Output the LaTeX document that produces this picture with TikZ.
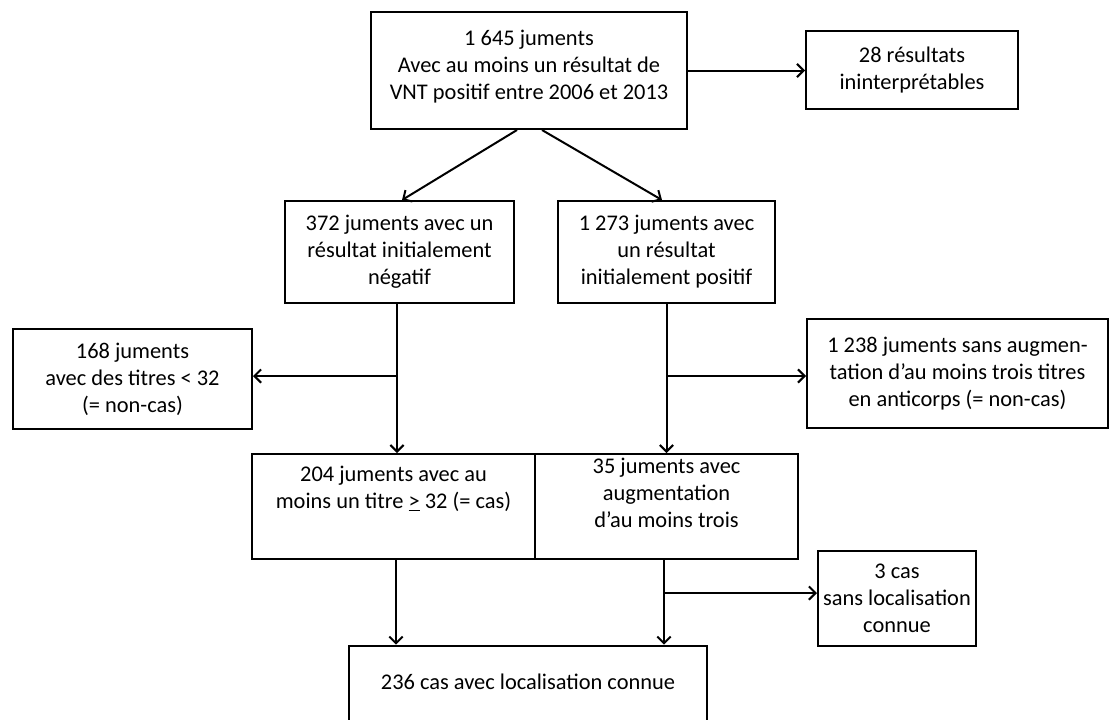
\documentclass[tikz,border=0pt]{standalone}
\usepackage{fontspec}
\setmainfont{Carlito}
\usetikzlibrary{shapes,arrows,arrows.meta,positioning}

\begin{document}
\begin{tikzpicture}[x=0.75pt,y=-0.75pt]
\tikzstyle{box}=[rectangle, draw, line width=1.5pt, align=center, inner sep=0pt, font=\fontsize{16.8}{20.3}\selectfont]
\tikzstyle{flow}=[-{Straight Barb[length=5pt,width=10pt]}, line width=1.5pt]

\useasboundingbox (0,0) rectangle (1112,719);
\clip (0,0) rectangle (1112,719);

\node[box, minimum width=237pt, minimum height=87.75pt] (top) at (529,70.5) {1 645 juments\\Avec au moins un résultat de\\VNT positif entre 2006 et 2013\\[-12pt]};
\node[box, minimum width=159pt, minimum height=58.5pt] (res28) at (912,70) {28 résultats\\ininterprétables};

\node[box, minimum width=171.75pt, minimum height=76.5pt] (neg372) at (399.5,252) {372 juments avec un\\résultat initialement\\négatif};
\node[box, minimum width=162.75pt, minimum height=76.5pt] (pos1273) at (666.5,252) {1 273 juments avec\\un résultat\\initialement positif};

\node[box, minimum width=179.25pt, minimum height=75pt] (non168) at (132.5,379) {168 juments\\avec des titres < 32\\(= non-cas)};
\node[box, minimum width=225.75pt, minimum height=81.75pt] (non1238) at (957.5,373.5) {1 238 juments sans augmen-\\tation d’au moins trois titres\\en anticorps (= non-cas)};

\node[box, minimum width=212.25pt, minimum height=78.75pt] (cas204) at (393.5,506.5) {204 juments avec au\\moins un titre \underline{>} 32 (= cas)\\[9pt]};
\node[box, minimum width=197.25pt, minimum height=78.75pt] (cas35) at (666.5,506.5) {35 juments avec\\augmentation\\d’au moins trois\\[0pt]};
\node[box, minimum width=118.5pt, minimum height=71.25pt] (sans3) at (897,598.5) {3 cas\\sans localisation\\connue};
\node[box, minimum width=268.5pt, minimum height=74pt] (loc236) at (528,695) {236 cas avec localisation connue\\[-1pt]};

\coordinate (b1) at (397,376);
\coordinate (b2) at (666,376);
\coordinate (c1) at (396,593);
\coordinate (c2) at (664,593);

\draw[flow] (top.east) -- (top.east -| res28.west);
\draw[flow] ([xshift=-9pt]top.south) -- ([xshift=1.9pt]neg372.north);
\draw[flow] ([xshift=9.75pt]top.south) -- ([xshift=-3.4pt]pos1273.north);

\draw[flow] (b1 |- neg372.south) -- (b1 |- cas204.north);
\draw[flow] (b1) -- (b1 -| non168.east);
\draw[flow] (pos1273) -- (cas35);
\draw[flow] (b2) -- (b2 -| non1238.west);

\draw[flow] (c1 |- cas204.south) -- (c1 |- loc236.north);
\draw[flow] (c2 |- cas35.south) -- (c2 |- loc236.north);
\draw[flow] (c2) -- (c2 -| sans3.west);
\end{tikzpicture}
\end{document}
